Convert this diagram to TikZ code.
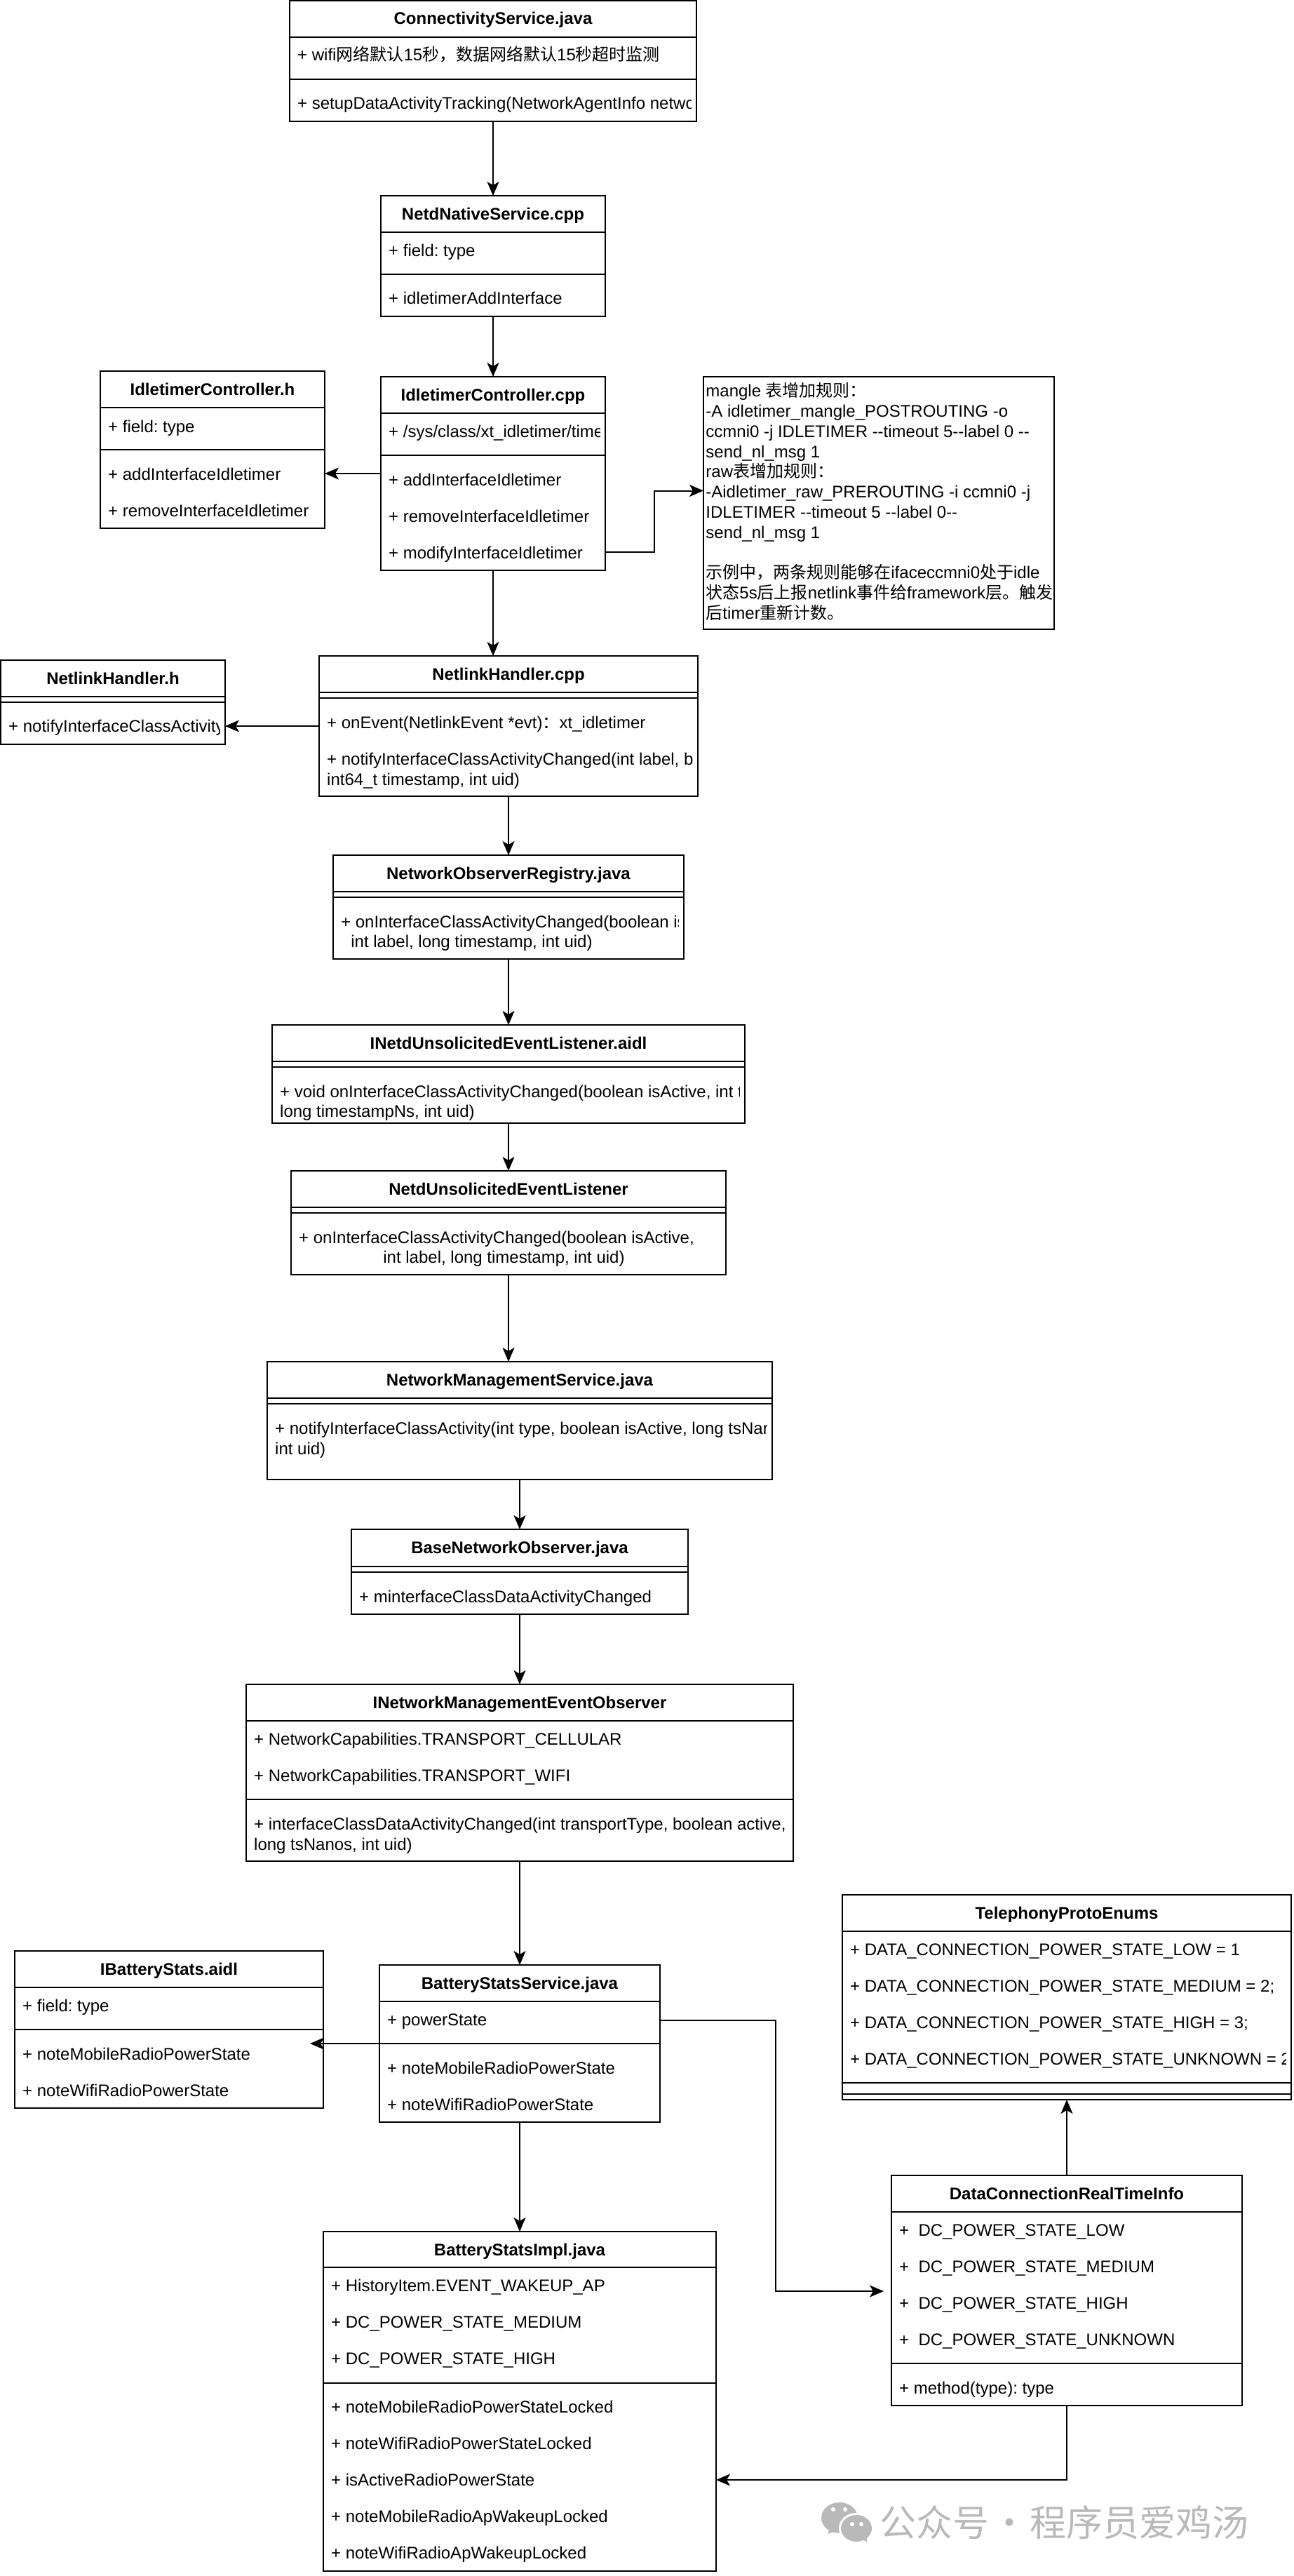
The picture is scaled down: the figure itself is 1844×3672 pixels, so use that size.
\documentclass[tikz,border=0pt]{standalone}
\usepackage{fontspec}
\usetikzlibrary{arrows.meta,fit}
\newfontfamily\umlfont{Liberation Sans}
\newfontfamily\cjkfont{Noto Sans CJK SC}
\newcommand{\zh}[1]{{\cjkfont #1}}
\definecolor{markGray}{RGB}{185,185,185}
\frenchspacing
% box with its bold title
\newcommand{\umlclass}[6]{%
  \node[classbox,fit={(#2,#3) (#4,#5)}] (#1) {};
  \node[headtext,yshift=-17pt] (#1Title) at (#1.north) {#6};
}
\newcommand{\umlsep}[2]{%
  \foreach \ysep in {#2} {\draw[sepline] (#1.west |- 0,\ysep) -- (#1.east |- 0,\ysep);}
}
% one text line, cut off at the right edge of its box
\newcommand{\umlrow}[5][xshift=5.4pt]{%
  \begin{scope}
    \clip ([xshift=4pt]#2.south west) rectangle ([xshift=-4pt]#2.north east);
    \node[rowtext,#1] (#3) at (#2.west |- 0,#4) {#5};
  \end{scope}
}
\begin{document}
\begin{tikzpicture}[
  x=0.5pt,y=-0.5pt,
  classbox/.style={draw,line width=1pt,inner sep=0pt,outer sep=0pt},
  headtext/.style={anchor=base,inner sep=0pt,font=\umlfont\bfseries\fontsize{12}{14.4}\selectfont},
  rowtext/.style={anchor=base west,inner sep=0pt,font=\umlfont\fontsize{12}{14.4}\selectfont},
  notetext/.style={anchor=north west,inner sep=0pt,align=left,font=\umlfont\fontsize{12}{14.4}\selectfont},
  sepline/.style={line width=1pt},
  arrow/.style={-{Stealth[length=10pt,width=8.5pt,inset=2.5pt]},line width=1pt}
]
  \useasboundingbox (0,0) rectangle (1844,3672);

  \umlclass{conn}{413}{1}{993}{173}{ConnectivityService.java}
  \umlsep{conn}{53,113}
  \umlrow{conn}{connTimeout}{87}{+ wifi\zh{网络默认}15\zh{秒，数据网络默认}15\zh{秒超时监测}}
  \umlrow{conn}{connTrack}{155.5}{+ setupDataActivityTracking(NetworkAgentInfo netwo}

  \umlclass{netd}{543}{279}{863}{451}{NetdNativeService.cpp}
  \umlsep{netd}{331,391}
  \umlrow{netd}{netdField}{365}{+ field: type}
  \umlrow{netd}{netdAdd}{433}{+ idletimerAddInterface}

  \umlclass{idleH}{143}{529}{463}{753}{IdletimerController.h}
  \umlsep{idleH}{581,641}
  \umlrow{idleH}{idleHField}{616}{+ field: type}
  \umlrow{idleH}{idleHAdd}{684}{+ addInterfaceIdletimer}
  \umlrow{idleH}{idleHRemove}{736}{+ removeInterfaceIdletimer}

  \umlclass{idleCpp}{543}{537}{863}{813}{IdletimerController.cpp}
  \umlsep{idleCpp}{589,649}
  \umlrow{idleCpp}{idleCppPath}{623}{+ /sys/class/xt\_idletimer/time}
  \umlrow{idleCpp}{idleCppAdd}{692}{+ addInterfaceIdletimer}
  \umlrow{idleCpp}{idleCppRemove}{744}{+ removeInterfaceIdletimer}
  \umlrow{idleCpp}{idleCppModify}{796}{+ modifyInterfaceIdletimer}

  \node[classbox,fit={(1003,537) (1503,897)}] (ruleNote) {};
  \node[notetext] (ruleText) at (1006,545) {mangle \zh{表增加规则：}\\
    -A idletimer\_mangle\_POSTROUTING -o\\
    ccmni0 -j IDLETIMER --timeout 5--label 0 --\\
    send\_nl\_msg 1\\
    raw\zh{表增加规则：}\\
    -Aidletimer\_raw\_PREROUTING -i ccmni0 -j\\
    IDLETIMER --timeout 5 --label 0--\\
    send\_nl\_msg 1\\
    ~\\
    \zh{示例中，两条规则能够在}ifaceccmni0\zh{处于}idle\\
    \zh{状态}5s\zh{后上报}netlink\zh{事件给}framework\zh{层。触发}\\
    \zh{后}timer\zh{重新计数。}};

  \umlclass{netlinkH}{1}{941}{321}{1061}{NetlinkHandler.h}
  \umlsep{netlinkH}{993,1001}
  \umlrow{netlinkH}{netlinkHNotify}{1043}{+ notifyInterfaceClassActivity}

  \umlclass{netlinkCpp}{455}{935}{995}{1135}{NetlinkHandler.cpp}
  \umlsep{netlinkCpp}{987,995}
  \umlrow{netlinkCpp}{netlinkCppEvent}{1038}{+ onEvent(NetlinkEvent *evt)\zh{：}xt\_idletimer}
  \umlrow{netlinkCpp}{netlinkCppNotify}{1090}{+ notifyInterfaceClassActivityChanged(int label, b}
  \umlrow{netlinkCpp}{netlinkCppArgs}{1119}{int64\_t timestamp, int uid)}

  \umlclass{netObs}{475}{1219}{975}{1367}{NetworkObserverRegistry.java}
  \umlsep{netObs}{1271,1279}
  \umlrow{netObs}{netObsChanged}{1322}{+ onInterfaceClassActivityChanged(boolean is}
  \umlrow[xshift=12.5pt]{netObs}{netObsArgs}{1350}{int label, long timestamp, int uid)}

  \umlclass{iNetd}{388}{1461}{1062}{1601}{INetdUnsolicitedEventListener.aidl}
  \umlsep{iNetd}{1513,1521}
  \umlrow{iNetd}{iNetdChanged}{1564}{+ void onInterfaceClassActivityChanged(boolean isActive, int t}
  \umlrow{iNetd}{iNetdArgs}{1592}{long timestampNs, int uid)}

  \umlclass{netdUnsol}{415}{1669}{1035}{1817}{NetdUnsolicitedEventListener}
  \umlsep{netdUnsol}{1721,1729}
  \umlrow{netdUnsol}{netdUnsolChanged}{1772}{+ onInterfaceClassActivityChanged(boolean isActive,}
  \umlrow[xshift=65.5pt]{netdUnsol}{netdUnsolArgs}{1800}{int label, long timestamp, int uid)}

  \umlclass{netMgmt}{381}{1941}{1101}{2109}{NetworkManagementService.java}
  \umlsep{netMgmt}{1993,2001}
  \umlrow{netMgmt}{netMgmtNotify}{2044}{+ notifyInterfaceClassActivity(int type, boolean isActive, long tsNan}
  \umlrow{netMgmt}{netMgmtArgs}{2073}{int uid)}

  \umlclass{baseNet}{501}{2180}{981}{2301}{BaseNetworkObserver.java}
  \umlsep{baseNet}{2233,2241}
  \umlrow{baseNet}{baseNetChanged}{2284}{+ minterfaceClassDataActivityChanged}

  \umlclass{iNetMgmt}{351}{2401}{1131}{2653}{INetworkManagementEventObserver}
  \umlsep{iNetMgmt}{2453,2565}
  \umlrow{iNetMgmt}{iNetMgmtCell}{2487}{+ NetworkCapabilities.TRANSPORT\_CELLULAR}
  \umlrow{iNetMgmt}{iNetMgmtWifi}{2539}{+ NetworkCapabilities.TRANSPORT\_WIFI}
  \umlrow{iNetMgmt}{iNetMgmtChanged}{2608}{+ interfaceClassDataActivityChanged(int transportType, boolean active,}
  \umlrow{iNetMgmt}{iNetMgmtArgs}{2637}{long tsNanos, int uid)}

  \umlclass{iBattery}{21}{2781}{461}{3005}{IBatteryStats.aidl}
  \umlsep{iBattery}{2833,2893}
  \umlrow{iBattery}{iBatteryField}{2867}{+ field: type}
  \umlrow{iBattery}{iBatteryMobile}{2936}{+ noteMobileRadioPowerState}
  \umlrow{iBattery}{iBatteryWifi}{2988}{+ noteWifiRadioPowerState}

  \umlclass{batService}{541}{2801}{941}{3025}{BatteryStatsService.java}
  \umlsep{batService}{2853,2913}
  \umlrow{batService}{batServiceState}{2887}{+ powerState}
  \umlrow{batService}{batServiceMobile}{2956}{+ noteMobileRadioPowerState}
  \umlrow{batService}{batServiceWifi}{3008}{+ noteWifiRadioPowerState}

  \umlclass{protoEnums}{1201}{2701}{1841}{2993}{TelephonyProtoEnums}
  \umlsep{protoEnums}{2753,2969,2985}
  \umlrow{protoEnums}{protoLow}{2787}{+ DATA\_CONNECTION\_POWER\_STATE\_LOW = 1}
  \umlrow{protoEnums}{protoMedium}{2839}{+ DATA\_CONNECTION\_POWER\_STATE\_MEDIUM = 2;}
  \umlrow{protoEnums}{protoHigh}{2891}{+ DATA\_CONNECTION\_POWER\_STATE\_HIGH = 3;}
  \umlrow{protoEnums}{protoUnknown}{2943}{+ DATA\_CONNECTION\_POWER\_STATE\_UNKNOWN = 2}

  \umlclass{dataConn}{1271}{3101}{1771}{3429}{DataConnectionRealTimeInfo}
  \umlsep{dataConn}{3153,3369}
  \umlrow{dataConn}{dataConnLow}{3187}{+\ \ DC\_POWER\_STATE\_LOW}
  \umlrow{dataConn}{dataConnMedium}{3239}{+\ \ DC\_POWER\_STATE\_MEDIUM}
  \umlrow{dataConn}{dataConnHigh}{3291}{+\ \ DC\_POWER\_STATE\_HIGH}
  \umlrow{dataConn}{dataConnUnknown}{3343}{+\ \ DC\_POWER\_STATE\_UNKNOWN}
  \umlrow{dataConn}{dataConnMethod}{3412}{+ method(type): type}

  \umlclass{batImpl}{461}{3181}{1021}{3665}{BatteryStatsImpl.java}
  \umlsep{batImpl}{3232,3397}
  \umlrow{batImpl}{batImplWakeup}{3266}{+ HistoryItem.EVENT\_WAKEUP\_AP}
  \umlrow{batImpl}{batImplMedium}{3318}{+ DC\_POWER\_STATE\_MEDIUM}
  \umlrow{batImpl}{batImplHigh}{3370}{+ DC\_POWER\_STATE\_HIGH}
  \umlrow{batImpl}{batImplMobile}{3439}{+ noteMobileRadioPowerStateLocked}
  \umlrow{batImpl}{batImplWifi}{3491}{+ noteWifiRadioPowerStateLocked}
  \umlrow{batImpl}{batImplActive}{3543}{+ isActiveRadioPowerState}
  \umlrow{batImpl}{batImplApMobile}{3595}{+ noteMobileRadioApWakeupLocked}
  \umlrow{batImpl}{batImplApWifi}{3647}{+ noteWifiRadioApWakeupLocked}

  \coordinate (iBatteryTip) at (442,2913);
  \coordinate (powerTip) at (1260,3266);

  \draw[arrow] (conn.south) -- (netd.north);
  \draw[arrow] (netd.south) -- (idleCpp.north);
  \draw[arrow] (idleCpp.west |- 0,675) -- (idleH.east |- 0,675);
  \draw[arrow] (idleCpp.east |- 0,787) -- (933,787) -- (933,699.5) -- (ruleNote.west |- 0,699.5);
  \draw[arrow] (idleCpp.south) -- (idleCpp.south |- netlinkCpp.north);
  \draw[arrow] (netlinkCpp.west |- 0,1035) -- (netlinkH.east |- 0,1035);
  \draw[arrow] (netlinkCpp.south) -- (netObs.north);
  \draw[arrow] (netObs.south) -- (iNetd.north);
  \draw[arrow] (iNetd.south) -- (netdUnsol.north);
  \draw[arrow] (netdUnsol.south) -- (netdUnsol.south |- netMgmt.north);
  \draw[arrow] (netMgmt.south) -- (baseNet.north);
  \draw[arrow] (baseNet.south) -- (iNetMgmt.north);
  \draw[arrow] (iNetMgmt.south) -- (batService.north);
  \draw[arrow] (batService.west |- iBatteryTip) -- (iBatteryTip);
  \draw[arrow] (batService.south) -- (batImpl.north);
  \draw[arrow] (batService.east |- 0,2880) -- (1106,2880) -- (1106,3266) -- (powerTip);
  \draw[arrow] (dataConn.north) -- (protoEnums.south);
  \draw[arrow] (dataConn.south) |- (batImpl.east |- 0,3535);

  % account mark, bottom right
  \fill[markGray] (1197,3589) ellipse [x radius=26,y radius=22];
  \fill[markGray] (1183,3604) -- (1180,3612) -- (1192,3608) -- cycle;
  \fill[white] (1221,3604) ellipse [x radius=25,y radius=22];
  \fill[markGray] (1221,3604) ellipse [x radius=22,y radius=19];
  \fill[markGray] (1228,3618) -- (1236,3624) -- (1236,3614) -- cycle;
  \foreach \dotx/\doty in {1188/3577,1205/3577} {\fill[white] (\dotx,\doty) circle [radius=3];}
  \foreach \dotx/\doty in {1215/3598,1228/3598} {\fill[white] (\dotx,\doty) circle [radius=3];}
  \node[anchor=base west,inner sep=0pt,text=markGray,font=\cjkfont\fontsize{26}{30}\selectfont] (markName) at (1254,3615) {公众号\hspace{1.5pt}·\hspace{1.5pt}程序员爱鸡汤};
\end{tikzpicture}
\end{document}
